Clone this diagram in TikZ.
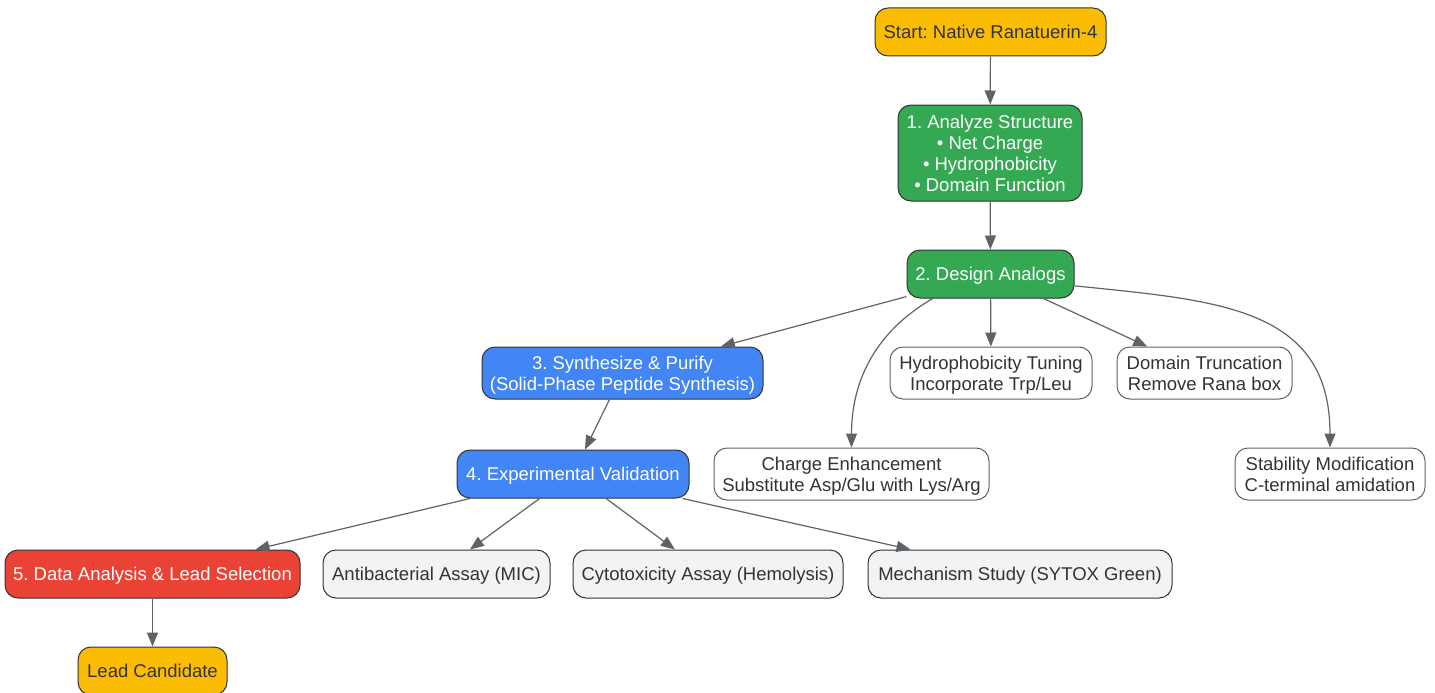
\documentclass[tikz,border=0pt]{standalone}
\usepackage{fontspec}
\setmainfont{Liberation Sans}
\usetikzlibrary{arrows.meta}
\frenchspacing

\definecolor{startyellow}{HTML}{FBBC04}
\definecolor{designgreen}{HTML}{34A853}
\definecolor{labblue}{HTML}{4285F4}
\definecolor{leadred}{HTML}{EA4335}
\definecolor{assaygrey}{HTML}{F1F3F4}
\definecolor{edgegrey}{HTML}{5F6368}
\definecolor{outline}{HTML}{333333}
\definecolor{textdark}{HTML}{333333}

\tikzset{
  box/.style={draw=outline, line width=1pt, rounded corners=13pt, align=center,
    inner sep=0pt, text depth=0pt, font=\fontsize{18.5}{21}\selectfont},
  yellowbox/.style={box, fill=startyellow, text=textdark},
  greenbox/.style={box, fill=designgreen, text=white},
  bluebox/.style={box, fill=labblue, text=white},
  redbox/.style={box, fill=leadred, text=white},
  strategy/.style={box, draw=edgegrey, fill=white, text=textdark},
  assay/.style={box, fill=assaygrey, text=textdark},
  flow/.style={draw=edgegrey, line width=1.2pt, -{Triangle[length=14pt,width=11pt]}},
}

\begin{document}
\begin{tikzpicture}[x=1pt,y=1pt]
	\useasboundingbox (0,0) rectangle (1435,-693);
	% main line
	\node[yellowbox, minimum width=231pt, minimum height=48pt] (start) at (990.5,-32) {Start: Native Ranatuerin-4};
	\node[greenbox, minimum width=184pt, minimum height=96pt] (analyze) at (990,-153) {1. Analyze Structure\\• Net Charge\\• Hydrophobicity\\• Domain Function};
	\node[greenbox, minimum width=167pt, minimum height=48pt] (design) at (990.5,-274) {2. Design Analogs};
	\node[bluebox, minimum width=281pt, minimum height=52pt] (synth) at (622.5,-373) {3. Synthesize \& Purify\\(Solid-Phase Peptide Synthesis)};
	\node[bluebox, minimum width=232pt, minimum height=48pt] (validation) at (573,-474) {4. Experimental Validation};
	\node[redbox, minimum width=295pt, minimum height=48pt] (data) at (152.5,-574) {5. Data Analysis \& Lead Selection};
	\node[yellowbox, minimum width=149pt, minimum height=48pt] (lead) at (152.5,-671) {Lead Candidate};
	% design strategies
	\node[strategy, minimum width=202pt, minimum height=52pt] (hydro) at (991,-373) {Hydrophobicity Tuning\\Incorporate Trp/Leu};
	\node[strategy, minimum width=175pt, minimum height=52pt] (domain) at (1204.5,-373) {Domain Truncation\\Remove Rana box};
	\node[strategy, minimum width=275pt, minimum height=52pt] (charge) at (851.5,-474) {Charge Enhancement\\Substitute Asp/Glu with Lys/Arg};
	\node[strategy, minimum width=190pt, minimum height=52pt] (stability) at (1330,-474) {Stability Modification\\C-terminal amidation};
	% assays
	\node[assay, minimum width=227pt, minimum height=48pt] (antibac) at (436.5,-574) {Antibacterial Assay (MIC)};
	\node[assay, minimum width=270pt, minimum height=48pt] (cyto) at (708,-574) {Cytotoxicity Assay (Hemolysis)};
	\node[assay, minimum width=304pt, minimum height=48pt] (mech) at (1020,-574) {Mechanism Study (SYTOX Green)};

	\draw[flow] (start) -- (analyze);
	\draw[flow] (analyze) -- (design);
	\draw[flow] (design) -- (synth);
	\draw[flow] (design.-157) to[out=-150, in=90] (charge);
	\draw[flow] (design) -- (hydro);
	\draw[flow] (design) -- (domain);
	\draw[flow] (design.-8) to[out=-6, in=90, looseness=1.2] (stability);
	\draw[flow] (synth) -- (validation);
	\draw[flow] (validation) -- (data);
	\draw[flow] (validation) -- (antibac);
	\draw[flow] (validation) -- (cyto);
	\draw[flow] (validation) -- (mech);
	\draw[flow] (data) -- (lead);
\end{tikzpicture}
\end{document}
